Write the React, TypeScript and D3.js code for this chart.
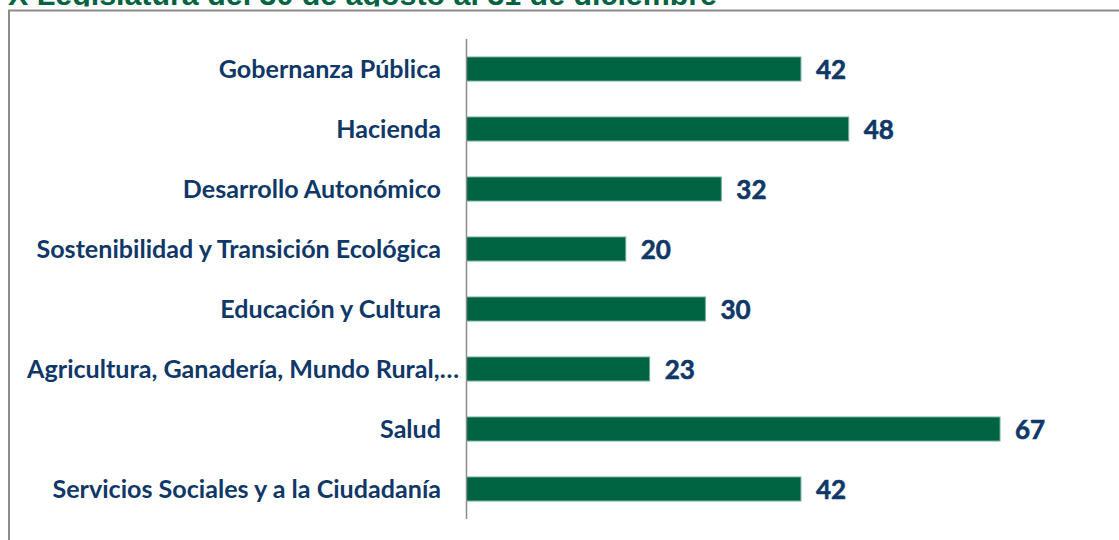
import React from "react";
import * as d3 from "d3";

const categories = [
  "Gobernanza Pública",
  "Hacienda",
  "Desarrollo Autonómico",
  "Sostenibilidad y Transición Ecológica",
  "Educación y Cultura",
  "Agricultura, Ganadería, Mundo Rural,…",
  "Salud",
  "Servicios Sociales y a la Ciudadanía",
];
const values = [42, 48, 32, 20, 30, 23, 67, 42];
const title = "X Legislatura del 30 de agosto al 31 de diciembre";

const W = 1119;
const H = 540;
const axisX = 466.5;

export default function App() {
  const x = d3.scaleLinear().domain([0, 67]).range([axisX, 1000]);
  const y = d3
    .scaleBand<string>()
    .domain(categories)
    .range([39, 519])
    .paddingInner(0.6)
    .paddingOuter(0.3);
  const bw = y.bandwidth();
  return (
    <svg
      width={W}
      height={H}
      style={{ position: "absolute", left: 0, top: 0, background: "#fff" }}
    >
      <defs>
        <clipPath id="titleClip">
          <rect x={0} y={-40} width={W} height={46.5} />
        </clipPath>
      </defs>
      <text
        x={8}
        y={5}
        fill="#006341"
        fontFamily="'Liberation Sans', Arial, sans-serif"
        fontWeight="bold"
        fontSize={30}
        clipPath="url(#titleClip)"
        textLength={709}
        lengthAdjust="spacingAndGlyphs"
      >
        {title}
      </text>
      <rect x={9} y={10.5} width={W + 10} height={H + 10} fill="none" stroke="#8c8c8c" strokeWidth={2} />
      {categories.map((c, i) => {
        const yy = y(c)!;
        const truncated = c.endsWith("…");
        return (
          <g key={c}>
            <rect
              x={x(0)}
              y={yy}
              width={x(values[i]) - x(0)}
              height={bw}
              fill="#006341"
              stroke="#6fae93"
              strokeWidth={1}
            />
            <text
              x={truncated ? 459 : 441}
              y={yy + bw / 2}
              dy="0.36em"
              textAnchor="end"
              fill="#0f3868"
              fontFamily="Lato, 'Open Sans', sans-serif"
              fontWeight="bold"
              fontSize={25.1}
            >
              {c}
            </text>
            <text
              x={x(values[i]) + 15}
              y={yy + bw / 2}
              dy="0.37em"
              fill="#0f3868"
              fontFamily="Lato, 'Open Sans', sans-serif"
              fontWeight="bold"
              fontSize={26}
              stroke="#0f3868"
              strokeWidth={0.6}
            >
              {values[i]}
            </text>
          </g>
        );
      })}
      <line x1={axisX} x2={axisX} y1={39} y2={519} stroke="#8c8c8c" strokeWidth={1.5} />
    </svg>
  );
}
